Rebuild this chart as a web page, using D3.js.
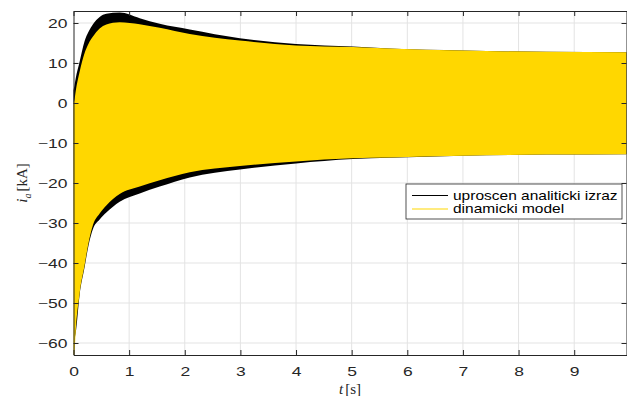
<!DOCTYPE html>
<html>
<head>
<meta charset="utf-8">
<script src="https://cdn.jsdelivr.net/npm/d3@7"></script>
<style>
  body { margin: 0; background: #fff; }
  svg { display: block; }
</style>
</head>
<body>
<svg id="chart" width="627" height="396"></svg>
<script>
// envelope of the oscillating current (50 Hz, too dense to resolve)
const time = [0, 0.015, 0.04, 0.11, 0.2, 0.27, 0.35, 0.47, 0.59, 0.83, 1.19, 1.55, 2.09, 2.99, 4.0, 5.02, 5.68, 7.0, 8.5, 9.94];

const analitUpper = [3.2, 4.2, 6.2, 10.3, 15.5, 17.8, 19.7, 21.5, 22.3, 22.6, 21.2, 19.8, 18.4, 16.2, 14.75, 14.1, 13.6, 13.1, 12.8, 12.7];
const analitLower = [0, -59, -57.5, -48, -41, -35.6, -31.5, -29.1, -27.4, -24.7, -22.6, -20.9, -18.6, -16.6, -15.1, -14.0, -13.7, -13.2, -12.9, -12.8];

const dinUpper = [0, 0.6, 3.0, 7.8, 12.5, 14.8, 16.6, 18.6, 19.6, 20.2, 19.7, 18.8, 17.25, 15.6, 14.4, 14.0, 13.6, 13.1, 12.8, 12.7];
const dinLower = [-63, -63, -57, -47.6, -40.5, -35, -30.5, -27.6, -25.6, -22.75, -20.9, -19.3, -17.3, -15.75, -14.6, -13.8, -13.6, -13.2, -12.9, -12.8];

const xTicks = [0, 1, 2, 3, 4, 5, 6, 7, 8, 9];
const yTicks = [20, 10, 0, -10, -20, -30, -40, -50, -60];
const seriesNames = ["uproscen analiticki izraz", "dinamicki model"];
const seriesColors = ["#000000", "#FFD700"];

const svg = d3.select("#chart");
const margin = { top: 11, right: 0.5, bottom: 41, left: 73.5 };
const width = 627 - margin.left - margin.right;
const height = 396 - margin.top - margin.bottom;

const g = svg.append("g")
    .attr("transform", `translate(${margin.left},${margin.top})`);

const x = d3.scaleLinear().domain([0, 9.94]).range([0, width]);
const y = d3.scaleLinear().domain([-63, 23]).range([height, 0]);

//grid
g.append("g").selectAll("line")
    .data(xTicks.slice(1))
    .enter().append("line")
    .attr("x1", d => x(d)).attr("x2", d => x(d))
    .attr("y1", 0).attr("y2", height)
    .attr("stroke", "#e3e3e3");

g.append("g").selectAll("line")
    .data(yTicks)
    .enter().append("line")
    .attr("x1", 0).attr("x2", width)
    .attr("y1", d => y(d)).attr("y2", d => y(d))
    .attr("stroke", "#e3e3e3");

//envelopes as filled bands
function band(upper, lower) {
    return d3.area()
        .x((d, i) => x(time[i]))
        .y0((d, i) => y(lower[i]))
        .y1((d, i) => y(upper[i]))
        .curve(d3.curveMonotoneX)(time);
}

g.append("path")
    .attr("d", band(analitUpper, analitLower))
    .attr("fill", seriesColors[0]);

g.append("path")
    .attr("d", band(dinUpper, dinLower))
    .attr("fill", seriesColors[1]);

//axes (box with inward ticks)
const tickLen = 5;
const font = "'Liberation Sans', Arial, sans-serif";
const stretch = 1.4; // labels in the reference are drawn wide

const xAxisB = g.append("g")
    .attr("transform", `translate(0,${height})`)
    .call(d3.axisBottom(x).tickValues(xTicks).tickSizeInner(-tickLen).tickSizeOuter(0).tickPadding(12));
const xAxisT = g.append("g")
    .call(d3.axisTop(x).tickValues(xTicks).tickSizeInner(-tickLen).tickSizeOuter(0).tickFormat(""));
const yAxisL = g.append("g")
    .call(d3.axisLeft(y).tickValues(yTicks).tickSizeInner(-tickLen).tickSizeOuter(0));
const yAxisR = g.append("g")
    .attr("transform", `translate(${width},0)`)
    .call(d3.axisRight(y).tickValues(yTicks).tickSizeInner(-tickLen).tickSizeOuter(0).tickFormat(""));

[xAxisB, xAxisT, yAxisL, yAxisR].forEach(a => {
    a.select(".domain").attr("stroke", "#262626");
    a.selectAll(".tick line").attr("stroke", "#262626");
    a.selectAll("text")
        .attr("fill", "#262626")
        .attr("transform", `scale(${stretch},1)`)
        .style("font-family", font)
        .style("font-size", "12.5px");
});
yAxisL.selectAll("text").attr("x", -6 / stretch);

//axis labels
svg.append("text")
    .attr("x", margin.left + width / 2)
    .attr("y", 394)
    .attr("text-anchor", "middle")
    .style("font-family", "'Liberation Serif', 'DejaVu Serif', serif")
    .style("font-size", "15px")
    .attr("fill", "#262626")
    .html('<tspan font-style="italic">t</tspan><tspan dx="2">[s]</tspan>');

svg.append("text")
    .attr("transform", `translate(27,${margin.top + height / 2}) rotate(-90)`)
    .attr("text-anchor", "middle")
    .style("font-family", "'Liberation Serif', 'DejaVu Serif', serif")
    .style("font-size", "15px")
    .attr("fill", "#262626")
    .html('<tspan font-style="italic">i</tspan><tspan font-style="italic" font-size="10px" dy="4">a</tspan><tspan dy="-4" dx="2">[kA]</tspan>');

//legend
const legend = svg.append("g").attr("transform", "translate(406,184)");
legend.append("rect")
    .attr("width", 216).attr("height", 35)
    .attr("fill", "#fff")
    .attr("stroke", "#262626")
    .attr("stroke-width", 0.8);

seriesNames.forEach((name, i) => {
    const ly = 11.5 + i * 13.5;
    legend.append("line")
        .attr("x1", 6).attr("x2", 42)
        .attr("y1", ly).attr("y2", ly)
        .attr("stroke", seriesColors[i])
        .attr("stroke-width", 1.2);
    legend.append("g")
        .attr("transform", `translate(47,${ly}) scale(1.24,1)`)
        .append("text")
        .attr("dy", "0.35em")
        .style("font-family", font)
        .style("font-size", "12.5px")
        .attr("fill", "#000")
        .text(name);
});
</script>
</body>
</html>
